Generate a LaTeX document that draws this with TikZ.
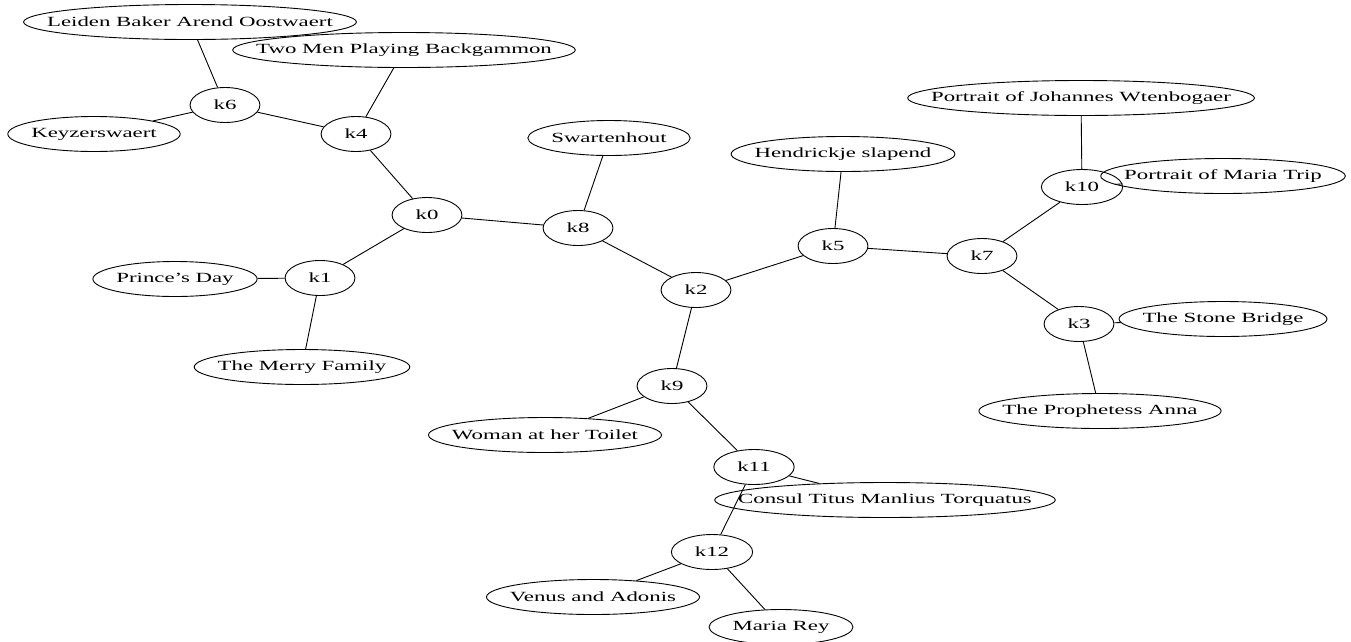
\documentclass[tikz,border=0pt]{standalone}
\usepackage{fontspec}
\setmainfont{Liberation Serif}
\usepackage{graphicx}
\usetikzlibrary{shapes.geometric}
\newcommand{\widetext}[1]{\scalebox{1.63}[1]{#1}}
\tikzset{
  lbl/.style={draw, ellipse, line width=0.9pt, inner sep=0pt,
    minimum height=35pt, minimum width={1.63*width("#1")+47pt},
    node contents={\makebox[0pt]{\widetext{#1}}}},
  link/.style={line width=0.9pt}
}
\begin{document}
\fontsize{14}{17}\selectfont
\begin{tikzpicture}[x=1pt,y=-1pt]
      \useasboundingbox (0,0) rectangle (1351,641);
      % hub nodes
      \node (k0) at (427,215) [lbl=k0];
      \node (k1) at (320,278) [lbl=k1];
      \node (k2) at (696,290) [lbl=k2];
      \node (k3) at (1079,324) [lbl=k3];
      \node (k4) at (356,134) [lbl=k4];
      \node (k5) at (833,246) [lbl=k5];
      \node (k6) at (225,105) [lbl=k6];
      \node (k7) at (982,256) [lbl=k7];
      \node (k8) at (578,228) [lbl=k8];
      \node (k9) at (672,386) [lbl=k9];
      \node (k10) at (1082,187) [lbl=k10];
      \node (k11) at (754,467) [lbl=k11];
      \node (k12) at (712,552) [lbl=k12];
      % paintings
      \node (leiden) at (190,22) [lbl=Leiden Baker Arend Oostwaert];
      \node (keyzer) at (94,134) [lbl=Keyzerswaert];
      \node (twomen) at (404,50) [lbl=Two Men Playing Backgammon];
      \node (prince) at (175,279) [lbl=Prince's Day];
      \node (merry) at (302,367) [lbl=The Merry Family];
      \node (swarten) at (609,138) [lbl=Swartenhout];
      \node (hendrickje) at (843,154) [lbl=Hendrickje slapend];
      \node (johannes) at (1081,98) [lbl=Portrait of Johannes Wtenbogaer];
      \node (mariatrip) at (1223,176) [lbl=Portrait of Maria Trip];
      \node (stone) at (1223,319) [lbl=The Stone Bridge];
      \node (anna) at (1100,411) [lbl=The Prophetess Anna];
      \node (woman) at (545,435) [lbl=Woman at her Toilet];
      \node (consul) at (885,500) [lbl=Consul Titus Manlius Torquatus];
      \node (venus) at (593,597) [lbl=Venus and Adonis];
      \node (mariarey) at (781,627) [lbl=Maria Rey];
      \begin{scope}[link]
        \draw (leiden) to (k6);
        \draw (k6) to (keyzer);
        \draw (k6) to (k4);
        \draw (k4) to (twomen);
        \draw (k4) to (k0);
        \draw (k0) to (k1);
        \draw (k0) to (k8);
        \draw (k1) to (prince);
        \draw (k1) to (merry);
        \draw (k8) to (swarten);
        \draw (k8) to (k2);
        \draw (k2) to (k5);
        \draw (k2) to (k9);
        \draw (k5) to (hendrickje);
        \draw (k5) to (k7);
        \draw (k7) to (k10);
        \draw (k7) to (k3);
        \draw (k10) to (johannes);
        \draw (k10) to (mariatrip);
        \draw (k3) to (stone);
        \draw (k3) to (anna);
        \draw (k9) to (woman);
        \draw (k9) to (k11);
        \draw (k11) to (consul);
        \draw (k11) to (k12);
        \draw (k12) to (venus);
        \draw (k12) to (mariarey);
      \end{scope}
    \end{tikzpicture}
\end{document}
